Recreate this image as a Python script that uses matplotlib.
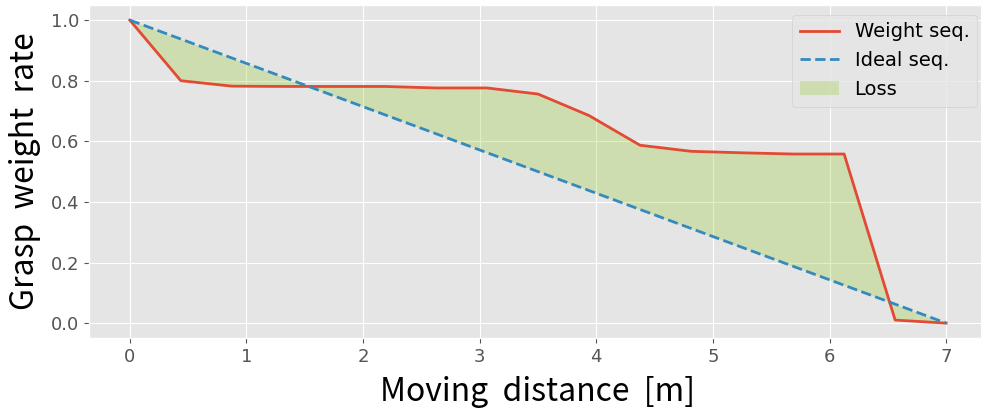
import matplotlib.pyplot as plt
import numpy as np

# Distance samples along the path [m] and the measured grasp weight rate
distance = [0, 0.4375, 0.875, 1.3125, 1.75, 2.1875, 2.625, 3.0625, 3.5,
            3.9375, 4.375, 4.8125, 5.25, 5.6875, 6.125, 6.5625, 7.0]
weight_seq = [1.0, 0.80, 0.782, 0.781, 0.781, 0.781, 0.776, 0.776, 0.756,
              0.685, 0.587, 0.567, 0.562, 0.558, 0.558, 0.010, 0.0]
# Ideal sequence: straight line from full grasp to zero
ideal_seq = [1.0, 0.9375, 0.875, 0.8125, 0.75, 0.6875, 0.625, 0.5625, 0.5,
             0.4375, 0.375, 0.3125, 0.25, 0.1875, 0.125, 0.0625, 0.0]

plt.style.use('ggplot')

fig = plt.figure(figsize=(9.81, 4.12), dpi=100)
ax = fig.add_axes([0.0907, 0.179, 0.9154, 0.809])

ax.plot(distance, weight_seq, '-', color='#E24A33', linewidth=2, label='Weight seq.')
ax.plot(distance, ideal_seq, '--', color='#348ABD', linewidth=2, label='Ideal seq.')
ax.fill_between(distance, weight_seq, ideal_seq, color='yellowgreen', alpha=0.3,
                linewidth=0, label='Loss')

ax.set_xlim(-0.35, 7.35)
ax.set_ylim(-0.05, 1.05)
ax.set_xticks(range(0, 8))
ax.set_yticks([0.0, 0.2, 0.4, 0.6, 0.8, 1.0])
ax.tick_params(labelsize=13, colors='#555555')

label_font = dict(family=['Noto Sans CJK JP', 'DejaVu Sans'], fontsize=23, color='black')
ax.set_xlabel('Moving  distance  [m]', labelpad=7, **label_font)
ax.set_ylabel('Grasp  weight  rate', labelpad=7, **label_font)

ax.legend(loc='upper right', fontsize=14)

fig.savefig('out.png', dpi=100)
